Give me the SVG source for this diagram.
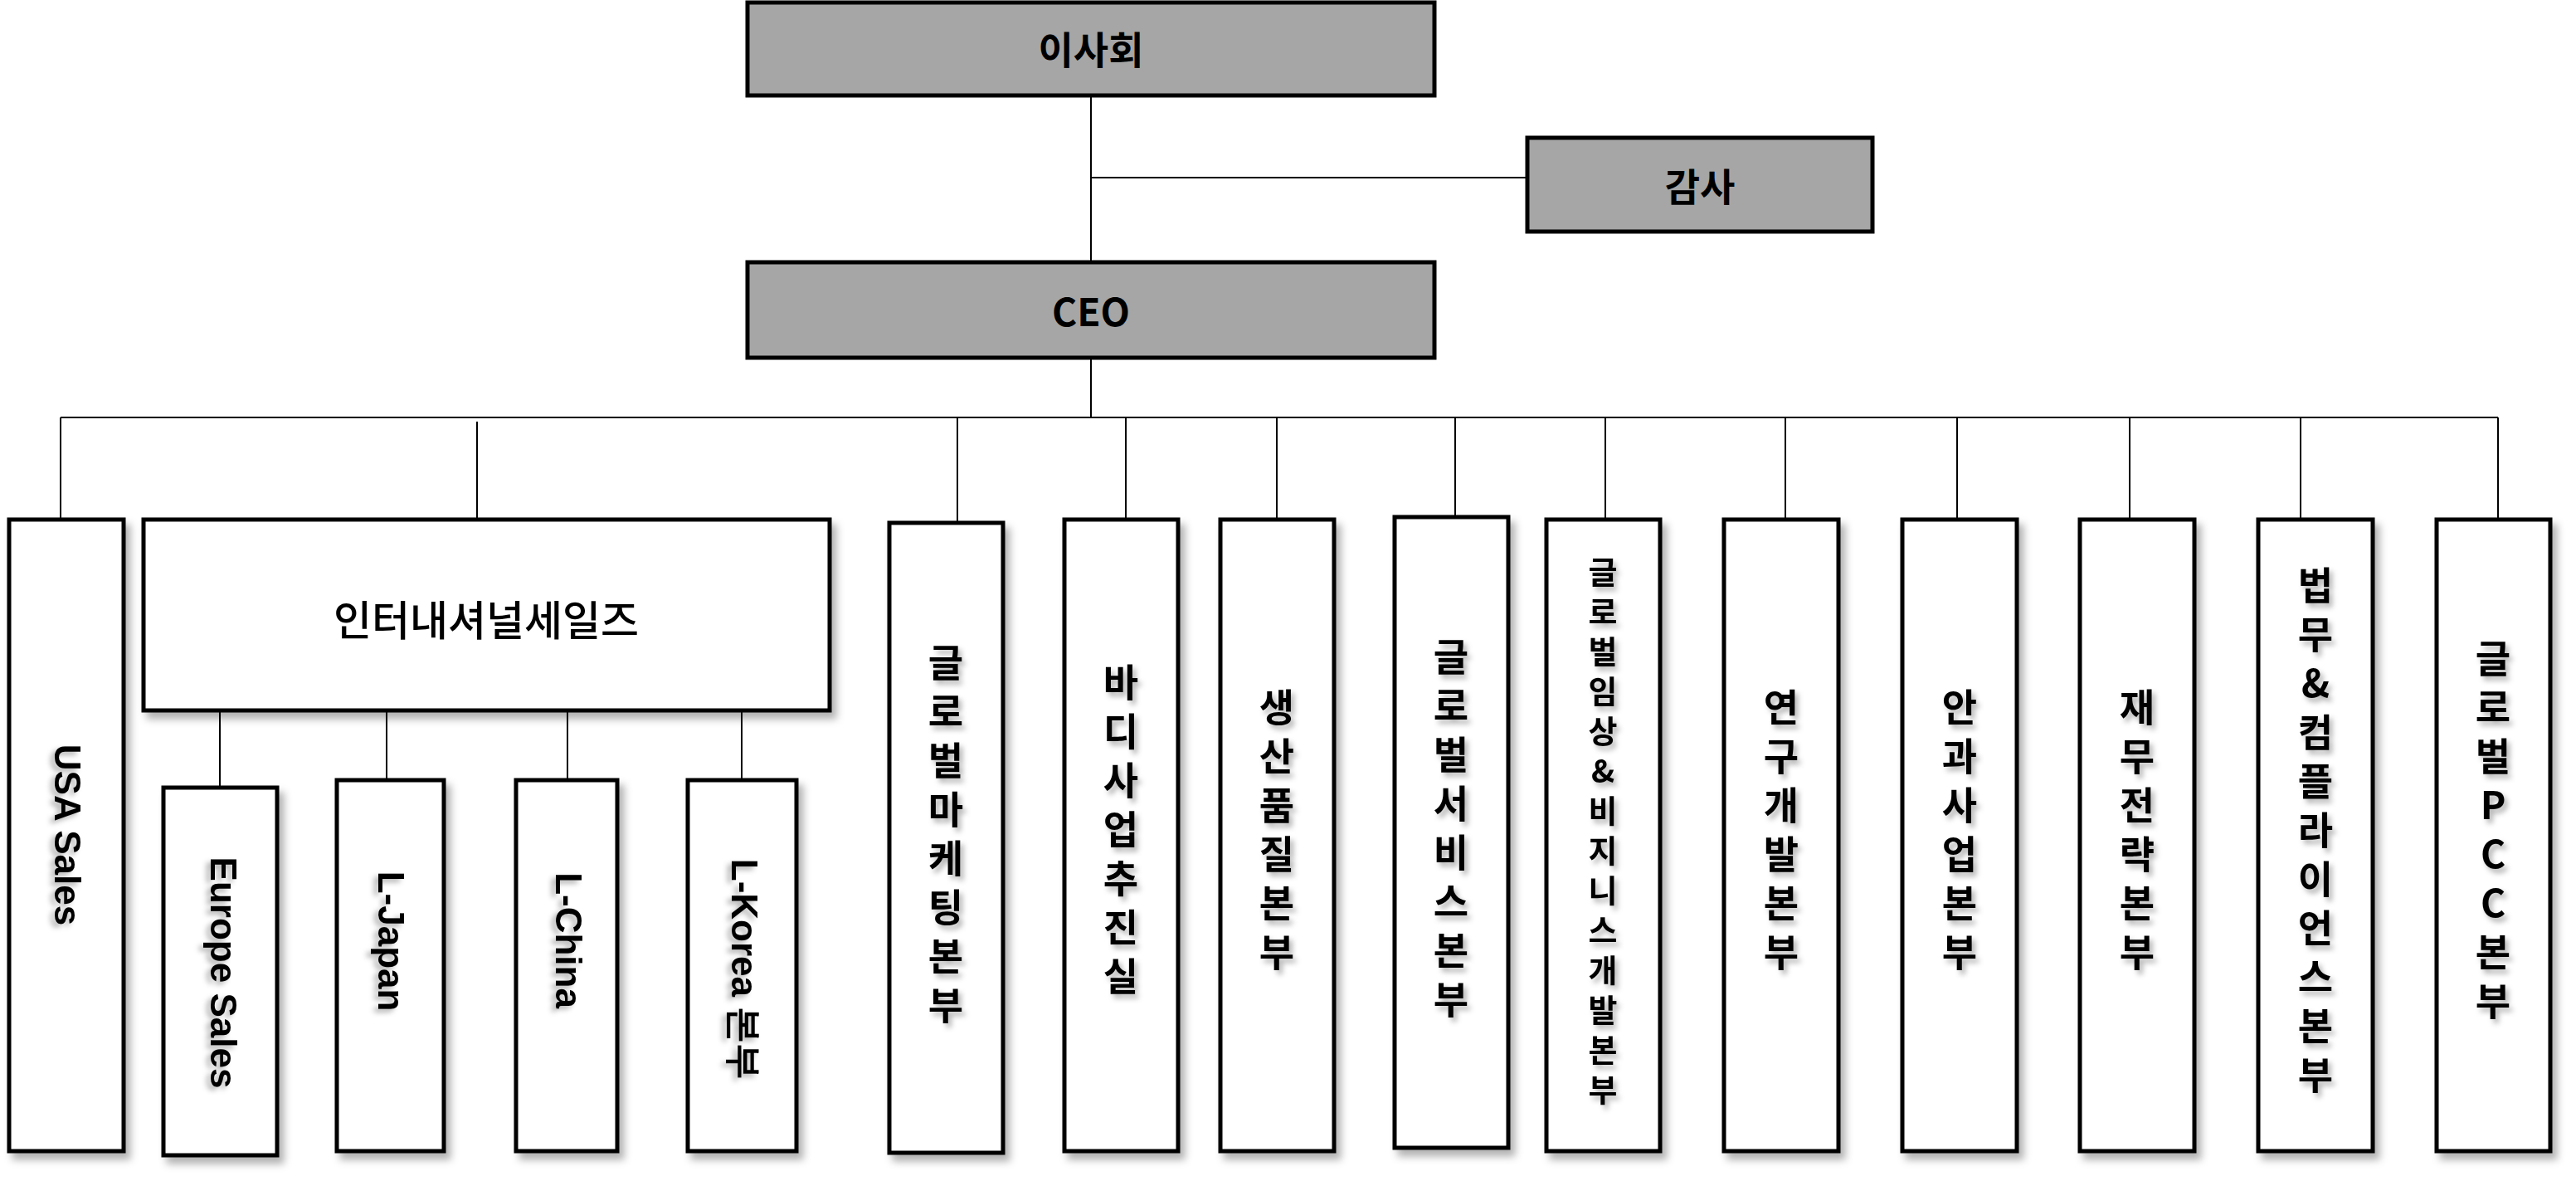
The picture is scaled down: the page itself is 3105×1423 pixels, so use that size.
<svg xmlns="http://www.w3.org/2000/svg" width="3105" height="1423" viewBox="0 0 3105 1423">
<style>
.box{fill:#fff;stroke:#000;stroke-width:5;filter:url(#sh)}
.gray{fill:#a6a6a6;stroke:#000;stroke-width:5}
.ln{stroke:#000;stroke-width:2;fill:none}
.t{font-family:"Noto Sans CJK KR","Liberation Sans",sans-serif;font-weight:bold;fill:#000}
.v{font-family:"Noto Sans CJK KR","Liberation Sans",sans-serif;font-weight:bold;font-size:46px;writing-mode:vertical-rl;text-anchor:middle;letter-spacing:13px;fill:#000;filter:url(#tsh)}
.vu{text-orientation:upright}
.e{font-family:"Liberation Sans",Arial,sans-serif;font-weight:bold;font-size:44px;text-anchor:middle;dominant-baseline:central;fill:#000;filter:url(#tsh)}
</style>
<defs>
<filter id="sh" x="-20%" y="-5%" width="150%" height="115%"><feDropShadow dx="6" dy="8" stdDeviation="5" flood-color="#000" flood-opacity="0.3"/></filter>
<filter id="tsh" x="-20%" y="-20%" width="150%" height="150%"><feDropShadow dx="4" dy="5" stdDeviation="3" flood-color="#000" flood-opacity="0.3"/></filter>
</defs>
<rect width="3105" height="1423" fill="#fff"/>
<g id="connectors">
<path class="ln" d="M1315 115V316M1315 214H1841M1315 431V503M73 503H3011"/>
<path class="ln" d="M73 503V626M575 508V626M1154 503V630M1357 503V626M1539 503V626M1754 503V623M1935 503V626M2152 503V626M2359 503V626M2567 503V626M2773 503V626M3011 503V626"/>
<path class="ln" d="M265 856V949M466 856V940M684 856V940M894 856V940"/>
</g>
<g id="n-board"><rect class="gray" x="901" y="3" width="828" height="112"/><text class="t" x="1315" y="57" font-size="46" text-anchor="middle" dominant-baseline="central">이사회</text></g>
<g id="n-audit"><rect class="gray" x="1841" y="166" width="416" height="113"/><text class="t" x="2049" y="222" font-size="46" text-anchor="middle" dominant-baseline="central">감사</text></g>
<g id="n-ceo"><rect class="gray" x="901" y="316" width="828" height="115"/><text class="t" x="1315" y="373" font-size="46" text-anchor="middle" dominant-baseline="central" font-family="Liberation Sans">CEO</text></g>
<g id="n-usa"><rect class="box" x="11" y="626" width="138" height="761"/><text class="e" transform="translate(82 1006) rotate(90)">USA Sales</text></g>
<g id="n-intl"><rect class="box" x="173" y="626" width="827" height="230"/><text class="t" x="586" y="744" font-size="50" font-weight="500" text-anchor="middle" dominant-baseline="central" style="font-weight:500">인터내셔널세일즈</text></g>
<g id="n-europe"><rect class="box" x="197" y="949" width="137" height="443"/><text class="e" transform="translate(270 1172) rotate(90)">Europe Sales</text></g>
<g id="n-japan"><rect class="box" x="406" y="940" width="129" height="447"/><text class="e" transform="translate(472 1134) rotate(90)">L-Japan</text></g>
<g id="n-china"><rect class="box" x="622" y="940" width="122" height="447"/><text class="e" transform="translate(686 1133) rotate(90)">L-China</text></g>
<g id="n-korea"><rect class="box" x="829" y="940" width="131" height="447"/><text class="e" transform="translate(898 1168) rotate(90)">L-Korea 본부</text></g>
<g id="n-gm"><rect class="box" x="1072" y="630" width="137" height="759"/><text class="v" x="1140" y="1011">글로벌마케팅본부</text></g>
<g id="n-body"><rect class="box" x="1283" y="626" width="137" height="761"/><text class="v" x="1351" y="1005">바디사업추진실</text></g>
<g id="n-prod"><rect class="box" x="1471" y="626" width="137" height="761"/><text class="v" x="1539" y="1006">생산품질본부</text></g>
<g id="n-gs"><rect class="box" x="1681" y="623" width="137" height="760"/><text class="v" x="1749" y="1004">글로벌서비스본부</text></g>
<g id="n-gc"><rect class="box" x="1864" y="626" width="137" height="761"/><text class="v vu" x="1932" y="1006" style="font-size:38px;letter-spacing:10px">글로벌임상&amp;비지니스개발본부</text></g>
<g id="n-rd"><rect class="box" x="2078" y="626" width="138" height="761"/><text class="v" x="2147" y="1006">연구개발본부</text></g>
<g id="n-eye"><rect class="box" x="2293" y="626" width="138" height="761"/><text class="v" x="2362" y="1006">안과사업본부</text></g>
<g id="n-fin"><rect class="box" x="2507" y="626" width="138" height="761"/><text class="v" x="2576" y="1006">재무전략본부</text></g>
<g id="n-legal"><rect class="box" x="2722" y="626" width="138" height="761"/><text class="v vu" x="2791" y="1006">법무&amp;컴플라이언스본부</text></g>
<g id="n-pcc"><rect class="box" x="2937" y="626" width="137" height="761"/><text class="v vu" x="3005" y="1006">글로벌PCC본부</text></g>
</svg>
